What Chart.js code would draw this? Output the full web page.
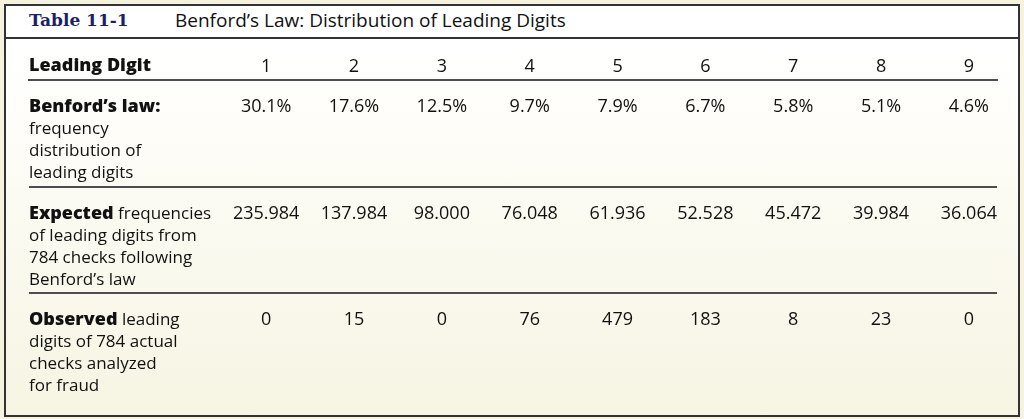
<!DOCTYPE html>
<html>
<head>
<meta charset="utf-8">
<script src="https://cdn.jsdelivr.net/npm/chart.js@4"></script>
<style>
  body{ margin:0; background:#f5f2df; width:1024px; height:419px; overflow:hidden; font-family:"Open Sans", sans-serif; }
  #caixa{
    position:absolute; left:4px; top:4px; width:1016px; height:413px; box-sizing:border-box;
    border:2px solid #333;
    background:linear-gradient(#ffffff 0px, #ffffff 40px, #fdfcf6 150px, #f6f4e2 100%);
  }
  #topo{ height:31px; border-bottom:2px solid #333; background:#fff; position:relative; }
  #num{ position:absolute; left:23px; top:4px; font:bold 17px "DejaVu Serif", serif; color:#1b1f6b; }
  #titulo{ position:absolute; left:169px; top:1px; font-size:19px; color:#111; }
  #grafico{ position:absolute; left:0; top:0; }
</style>
</head>
<body>
<div id="caixa">
  <div id="topo"><span id="num">Table 11-1</span><span id="titulo">Benford’s Law: Distribution of Leading Digits</span></div>
</div>
<canvas id="grafico" width="1024" height="419"></canvas>
<script>
const cabecalho = "Leading Digit";
const digitos = [1, 2, 3, 4, 5, 6, 7, 8, 9];
const benford = [30.1, 17.6, 12.5, 9.7, 7.9, 6.7, 5.8, 5.1, 4.6];
const esperado = [235.984, 137.984, 98.000, 76.048, 61.936, 52.528, 45.472, 39.984, 36.064];
const observado = [0, 15, 0, 76, 479, 183, 8, 23, 0];

// rotulos das linhas: [texto, negrito]
const rotulos = [
  [[["Benford’s law:", true]], [["frequency", false]], [["distribution of", false]], [["leading digits", false]]],
  [[["Expected", true], [" frequencies", false]], [["of leading digits from", false]], [["784 checks following", false]], [["Benford’s law", false]]],
  [[["Observed", true], [" leading", false]], [["digits of 784 actual", false]], [["checks analyzed", false]], [["for fraud", false]]]
];

const formatos = [
  v => v.toFixed(1) + "%",
  v => v.toFixed(3),
  v => String(v)
];

const FONTE = "'Open Sans'";
const NEGRITO = "800 18px " + FONTE;
const NORMAL = "17px " + FONTE;

const textos = {
  id: "textos",
  afterDatasetsDraw(chart){
    const ctx = chart.ctx;
    const y = chart.scales.y;
    const area = chart.chartArea;
    ctx.save();
    ctx.fillStyle = "#111";
    ctx.textBaseline = "middle";

    ctx.textAlign = "left";
    ctx.font = NEGRITO;
    ctx.fillText(cabecalho, area.left, area.top - 14);

    rotulos.forEach((linhas, r) => {
      const base = y.getPixelForValue(r) + 27;
      linhas.forEach((partes, k) => {
        let x = area.left;
        partes.forEach(([t, b]) => {
          ctx.font = b ? NEGRITO : NORMAL;
          ctx.fillText(t, x, base + k * 22);
          x += ctx.measureText(t).width;
        });
      });
    });

    ctx.textAlign = "center";
    ctx.font = "18px " + FONTE;
    chart.data.datasets.forEach((ds, d) => {
      chart.getDatasetMeta(d).data.forEach((pt, i) => {
        ctx.fillText(formatos[d](ds.data[i].v), pt.x, pt.y + 27);
      });
    });
    ctx.restore();
  }
};

function serie(vals, linha){
  return vals.map((v, i) => ({ x: digitos[i], y: linha, v: v }));
}

new Chart(document.getElementById("grafico"), {
  type: "scatter",
  data: {
    datasets: [
      { label: "Benford", data: serie(benford, 0) },
      { label: "Expected", data: serie(esperado, 1) },
      { label: "Observed", data: serie(observado, 2) }
    ]
  },
  options: {
    responsive: false,
    animation: false,
    devicePixelRatio: 1,
    elements: { point: { radius: 0, hoverRadius: 0 } },
    layout: { padding: { top: 36, left: 29, right: 27, bottom: 19 } },
    plugins: { legend: { display: false }, tooltip: { enabled: false } },
    scales: {
      x: {
        type: "linear",
        position: "top",
        min: -1.7,
        max: 9.32,
        grid: { display: false },
        border: { display: true, color: "#4d4d4d", width: 2 },
        ticks: { color: "#111", font: { family: FONTE, size: 18 }, padding: -6, callback: v => String(v) },
        afterBuildTicks: s => { s.ticks = digitos.map(v => ({ value: v })); },
        afterFit: s => { s.height = 44; }
      },
      y: {
        type: "linear",
        reverse: true,
        min: 0,
        max: 3,
        ticks: { display: false },
        grid: { drawTicks: false, color: "#4d4d4d", lineWidth: 2 },
        border: { display: false },
        afterBuildTicks: s => { s.ticks = [{ value: 1 }, { value: 2 }]; },
        afterFit: s => { s.width = 0; }
      }
    }
  },
  plugins: [textos]
});
</script>
</body>
</html>
